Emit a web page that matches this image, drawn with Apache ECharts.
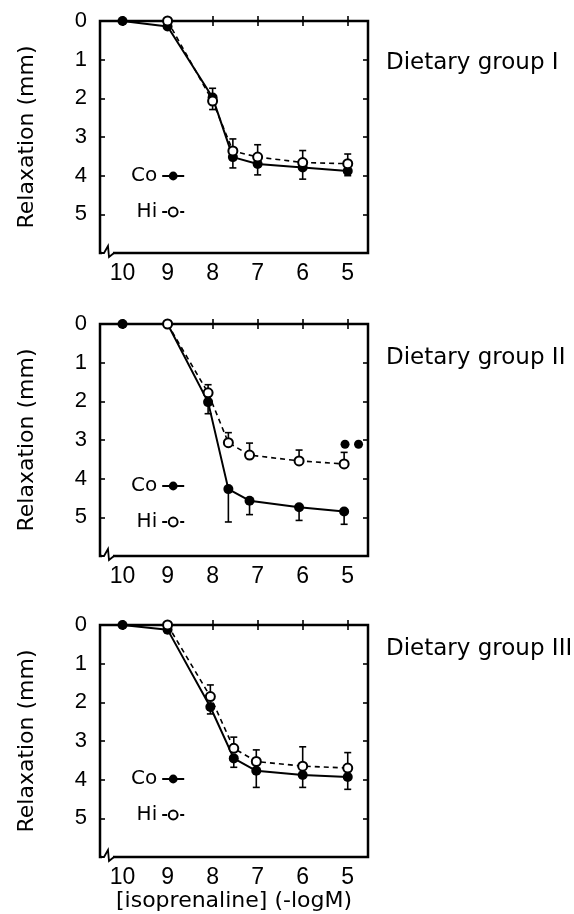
<!DOCTYPE html>
<html>
<head>
<meta charset="utf-8">
<script src="https://cdn.jsdelivr.net/npm/echarts@6/dist/echarts.min.js"></script>
<style>
  html, body { margin: 0; padding: 0; background: #fff; }
  #chart { width: 574px; height: 914px; }
</style>
</head>
<body>
<div id="chart"></div>
<script>
// -log M ticks and relaxation ticks
const X_TICKS = [10, 9, 8, 7, 6, 5]
const Y_TICKS = [0, 1, 2, 3, 4, 5]

// Dietary group I
const g1CoX = [10, 9, 8, 7.55, 7, 6, 5]
const g1Co = [0, 0.14, 1.98, 3.52, 3.70, 3.79, 3.88]
const g1CoErr = [null, null, 2.29, 3.80, 3.98, 4.09, 4.00]
const g1HiX = [9, 8, 7.55, 7, 6, 5]
const g1Hi = [0, 2.07, 3.36, 3.52, 3.66, 3.69]
const g1HiErr = [null, 1.74, 3.05, 3.20, 3.35, 3.44]

// Dietary group II
const g2CoX = [10, 9, 8.1, 7.65, 7.18, 6.08, 5.08]
const g2Co = [0, 0, 2.02, 4.27, 4.57, 4.74, 4.85]
const g2CoErr = [null, null, 2.32, 5.12, 4.93, 5.08, 5.18]
const g2HiX = [9, 8.1, 7.65, 7.18, 6.08, 5.08]
const g2Hi = [0, 1.78, 3.07, 3.39, 3.54, 3.62]
const g2HiErr = [null, 1.57, 2.81, 3.08, 3.26, 3.32]
const g2SigX = [5.06, 4.76]
const g2SigY = [3.11, 3.11]

// Dietary group III
const g3CoX = [10, 9, 8.05, 7.53, 7.03, 6, 5]
const g3Co = [0, 0.12, 2.12, 3.45, 3.77, 3.88, 3.93]
const g3CoErr = [null, null, 2.30, 3.68, 4.20, 4.20, 4.25]
const g3HiX = [9, 8.05, 7.53, 7.03, 6, 5]
const g3Hi = [0, 1.85, 3.19, 3.53, 3.65, 3.70]
const g3HiErr = [null, 1.55, 2.90, 3.23, 3.15, 3.30]

const groups = [
  { title: 'Dietary group I', coX: g1CoX, co: g1Co, coErr: g1CoErr, hiX: g1HiX, hi: g1Hi, hiErr: g1HiErr },
  { title: 'Dietary group II', coX: g2CoX, co: g2Co, coErr: g2CoErr, hiX: g2HiX, hi: g2Hi, hiErr: g2HiErr },
  { title: 'Dietary group III', coX: g3CoX, co: g3Co, coErr: g3CoErr, hiX: g3HiX, hi: g3Hi, hiErr: g3HiErr }
]

// layout
const PANEL_TOPS = [21, 324, 625]
const GRID_LEFT = 100
const GRID_W = 268
const GRID_H = 232
const TITLE_TOPS = [52, 347, 638]
const LEGEND_TOPS = [166, 476, 769]

const DIGIT_FONT = 'Liberation Sans'
const TEXT_FONT = 'DejaVu Sans'

const pairs = (xs, ys) => xs.map((x, i) => [x, ys[i]])
const errPairs = (xs, ys, es) =>
  xs.map((x, i) => (es[i] == null ? null : [x, ys[i], es[i]])).filter(Boolean)

const errorBar = (params, api) => {
  const x = api.value(0)
  const p0 = api.coord([x, api.value(1)])
  const p1 = api.coord([x, api.value(2)])
  const hw = 3.5
  const st = { stroke: '#000', lineWidth: 1.6 }
  return {
    type: 'group',
    children: [
      { type: 'line', shape: { x1: p0[0], y1: p0[1], x2: p1[0], y2: p1[1] }, style: st },
      { type: 'line', shape: { x1: p1[0] - hw, y1: p1[1], x2: p1[0] + hw, y2: p1[1] }, style: st }
    ]
  }
}

const grids = []
const xAxes = []
const yAxes = []
const series = []
const graphics = []

groups.forEach((g, i) => {
  const top = PANEL_TOPS[i]
  grids.push({
    left: GRID_LEFT, top: top, width: GRID_W, height: GRID_H,
    show: true, borderColor: '#000', borderWidth: 2.5, backgroundColor: 'transparent'
  })
  const xBase = {
    type: 'value', gridIndex: i, min: 4.55, max: 10.5, inverse: true,
    splitLine: { show: false }, axisLine: { show: false },
    axisTick: { inside: true, length: 5, customValues: X_TICKS, lineStyle: { color: '#000', width: 1.6 } }
  }
  xAxes.push(Object.assign({}, xBase, {
    position: 'bottom',
    axisLabel: {
      customValues: X_TICKS, margin: 9, color: '#000', fontSize: 23, fontFamily: DIGIT_FONT
    },
    name: i === 2 ? '[isoprenaline] (-logM)' : '',
    nameLocation: 'middle', nameGap: 31,
    nameTextStyle: { color: '#000', fontSize: 22, fontFamily: TEXT_FONT, verticalAlign: 'top' }
  }))
  xAxes.push(Object.assign({}, xBase, { position: 'top', axisLabel: { show: false } }))

  const yBase = {
    type: 'value', gridIndex: i, min: 0, max: 6, inverse: true,
    splitLine: { show: false }, axisLine: { show: false },
    axisTick: { inside: true, length: 5, customValues: [1, 2, 3, 4, 5], lineStyle: { color: '#000', width: 1.6 } }
  }
  yAxes.push(Object.assign({}, yBase, {
    position: 'left',
    axisLabel: {
      customValues: Y_TICKS, margin: 13, color: '#000', fontSize: 22, fontFamily: DIGIT_FONT
    },
    name: 'Relaxation (mm)', nameLocation: 'middle', nameGap: 62, nameRotate: 90,
    nameTextStyle: { color: '#000', fontSize: 22, fontFamily: TEXT_FONT }
  }))
  yAxes.push(Object.assign({}, yBase, { position: 'right', axisLabel: { show: false } }))

  const xi = i * 2
  const yi = i * 2
  series.push({
    type: 'custom', name: 'coErr' + i, xAxisIndex: xi, yAxisIndex: yi,
    renderItem: errorBar, data: errPairs(g.coX, g.co, g.coErr), z: 1,
    encode: { x: 0, y: [1, 2] }
  })
  series.push({
    type: 'custom', name: 'hiErr' + i, xAxisIndex: xi, yAxisIndex: yi,
    renderItem: errorBar, data: errPairs(g.hiX, g.hi, g.hiErr), z: 1,
    encode: { x: 0, y: [1, 2] }
  })
  series.push({
    type: 'line', name: 'Co', xAxisIndex: xi, yAxisIndex: yi,
    data: pairs(g.coX, g.co), symbol: 'circle', symbolSize: 10,
    itemStyle: { color: '#000' }, lineStyle: { color: '#000', width: 2 }, z: 3
  })
  series.push({
    type: 'line', name: 'Hi', xAxisIndex: xi, yAxisIndex: yi,
    data: pairs(g.hiX, g.hi), symbol: 'emptyCircle', symbolSize: 9,
    itemStyle: { color: '#000', borderWidth: 1.8 },
    lineStyle: { color: '#000', width: 1.6, type: [5, 4] }, z: 4
  })

  // axis break mark at bottom-left corner
  const b = top + GRID_H
  graphics.push({
    type: 'rect', shape: { x: GRID_LEFT + 2, y: b - 3, width: 11, height: 6 },
    style: { fill: '#fff' }, z: 10
  })
  graphics.push({
    type: 'polyline',
    shape: { points: [[GRID_LEFT, b], [GRID_LEFT + 4, b], [GRID_LEFT + 8, b - 7], [GRID_LEFT + 9, b + 4], [GRID_LEFT + 14, b]] },
    style: { stroke: '#000', lineWidth: 1.8, fill: null }, z: 11
  })
})

series.push({
  type: 'scatter', name: 'sig', xAxisIndex: 2, yAxisIndex: 2,
  data: pairs(g2SigX, g2SigY), symbol: 'circle', symbolSize: 9,
  itemStyle: { color: '#000', opacity: 1 }, z: 5
})

const chart = echarts.init(document.getElementById('chart'))
chart.setOption({
  animation: false,
  backgroundColor: '#fff',
  title: groups.map((g, i) => ({
    text: g.title, left: 386, top: TITLE_TOPS[i], padding: 0,
    textStyle: { color: '#000', fontSize: 23, fontWeight: 'normal', fontFamily: TEXT_FONT }
  })),
  legend: groups.map((g, i) => ({
    data: ['Co', 'Hi'], orient: 'vertical', left: 131, top: LEGEND_TOPS[i],
    align: 'right', itemWidth: 22, itemHeight: 11, itemGap: 16, selectedMode: false, padding: 0,
    textStyle: { color: '#000', fontSize: 20, fontFamily: TEXT_FONT }
  })),
  grid: grids,
  xAxis: xAxes,
  yAxis: yAxes,
  series: series,
  graphic: graphics
})
</script>
</body>
</html>
